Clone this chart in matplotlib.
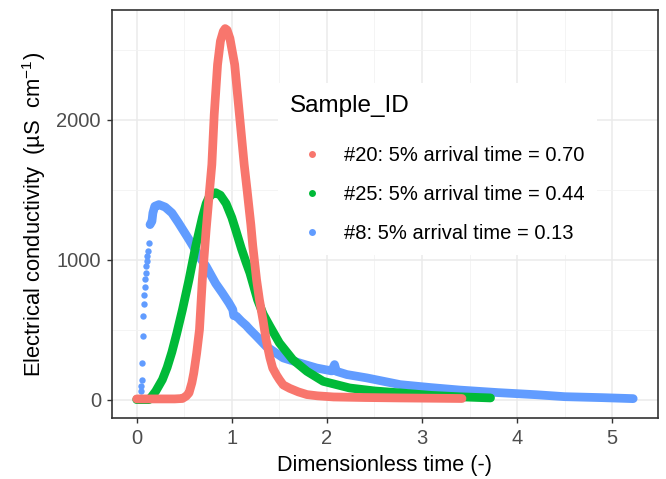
import numpy as np
import matplotlib
matplotlib.use("Agg")
import matplotlib.pyplot as plt
from matplotlib.lines import Line2D
from matplotlib.ticker import MultipleLocator

plt.rcParams['font.family'] = ['Liberation Sans', 'DejaVu Sans']
plt.rcParams['mathtext.fontset'] = 'custom'
plt.rcParams['mathtext.rm'] = 'Liberation Sans'
plt.rcParams['mathtext.it'] = 'Liberation Sans'

# ── Data ──────────────────────────────────────────────────
labels = ['#20: 5% arrival time = 0.70',
          '#25: 5% arrival time = 0.44',
          '#8: 5% arrival time = 0.13']
colors = ['#F8766D', '#00BA38', '#619CFF']

# sample #20
t20 = [0.0, 0.2, 0.4, 0.48, 0.52, 0.55, 0.58, 0.60, 0.63, 0.66, 0.69, 0.73,
       0.76, 0.79, 0.815, 0.85, 0.88, 0.91, 0.93, 0.95, 0.98, 1.03, 1.08,
       1.13, 1.16, 1.20, 1.22, 1.26, 1.29, 1.33, 1.36, 1.40, 1.43, 1.47, 1.50,
       1.54, 1.61, 1.70, 1.79, 1.90, 2.07, 2.40, 2.77, 3.10, 3.42]
ec20 = [5, 5, 5, 8, 25, 48, 120, 190, 330, 500, 857, 1214,
        1450, 1679, 2036, 2393, 2560, 2630, 2650, 2640, 2580, 2393, 2036,
        1679, 1500, 1250, 1100, 857, 714, 560, 429, 300, 225, 175, 143,
        105, 80, 55, 36, 27, 19, 15, 12, 10, 8]

# sample #25
t25 = [0.0, 0.13, 0.16, 0.20, 0.27, 0.32, 0.37, 0.42, 0.48, 0.55, 0.62, 0.69,
       0.73, 0.76, 0.80, 0.83, 0.88, 0.94, 1.00, 1.04, 1.10, 1.15, 1.19, 1.23,
       1.27, 1.33, 1.40, 1.50, 1.64, 1.79, 1.96, 2.24, 2.50, 2.77, 3.10, 3.40,
       3.72]
ec25 = [0, 0, 24, 60, 143, 230, 340, 470, 640, 857, 1095, 1300,
        1400, 1445, 1472, 1478, 1460, 1400, 1300, 1214, 1080, 980, 905, 810,
        714, 610, 524, 405, 286, 202, 131, 83, 62, 48, 30, 20,
        12]

# sample #8 - sparse early rise (individual points)
t8_rise = [0.0, 0.01, 0.02, 0.03, 0.04, 0.045, 0.05, 0.055, 0.06, 0.065, 0.07,
           0.074, 0.08, 0.085, 0.09, 0.095, 0.10, 0.105, 0.11, 0.12, 0.127]
ec8_rise = [0, 0, 0, 0, 0, 60, 95, 143, 262, 457, 595, 686,
            750, 802, 862, 905, 952, 988, 1024, 1060, 1119]

# sample #8 - dense part
t8 = [0.14, 0.16, 0.17, 0.19, 0.233, 0.30, 0.37, 0.44, 0.55, 0.66, 0.73,
      0.83, 0.90, 0.97, 1.01, 1.02, 1.05, 1.10, 1.15, 1.19, 1.26, 1.36, 1.54,
      1.71, 1.89, 2.05, 2.08, 2.10, 2.21, 2.42, 2.77, 3.09, 3.40, 3.80, 4.20,
      4.50, 4.90, 5.22]
ec8 = [1250, 1274, 1333, 1381, 1393, 1375, 1333, 1262, 1143, 1020, 952,
       830, 762, 690, 643, 600, 595, 560, 530, 500, 452, 381, 298,
       262, 226, 205, 250, 202, 179, 155, 107, 86, 68, 50, 35,
       21, 14, 7]

# ── Plot ───────────────────────────────────────────────────
fig = plt.figure(figsize=(6.66, 4.79), dpi=100)
ax = fig.add_axes([0.168, 0.127, 0.820, 0.852])

lw = 6.3
line_kw = dict(solid_capstyle='round', solid_joinstyle='round')
ax.plot(t8_rise, ec8_rise, 'o', color=colors[2], ms=4.6, mew=0, zorder=3)
ax.plot(t8, ec8, '-', color=colors[2], lw=lw, zorder=3, **line_kw)
ax.plot(t25, ec25, '-', color=colors[1], lw=lw, zorder=4, **line_kw)
ax.plot(t20, ec20, '-', color=colors[0], lw=lw, zorder=5, **line_kw)

# ggplot-like limits (5% expansion)
xmin, xmax = 0, 5.22
ymin, ymax = 0, 2650
ax.set_xlim(xmin - 0.05 * (xmax - xmin), xmax + 0.05 * (xmax - xmin))
ax.set_ylim(ymin - 0.05 * (ymax - ymin), ymax + 0.05 * (ymax - ymin))

ax.xaxis.set_major_locator(MultipleLocator(1))
ax.xaxis.set_minor_locator(MultipleLocator(0.5))
ax.yaxis.set_major_locator(MultipleLocator(1000))
ax.yaxis.set_minor_locator(MultipleLocator(500))
ax.grid(which='major', color='#EBEBEB', lw=1.1, zorder=0)
ax.grid(which='minor', color='#F2F2F2', lw=0.6, zorder=0)
ax.set_axisbelow(True)

ax.tick_params(which='major', length=3.6, width=1.0, color='#333333',
               labelcolor='#4D4D4D', labelsize=14.5, pad=4.3)
ax.tick_params(which='minor', length=0)
for s in ax.spines.values():
    s.set_color('#333333')
    s.set_linewidth(1.2)

ax.set_xlabel('Dimensionless time (-)', fontsize=15.6, labelpad=5)
ax.set_ylabel('Electrical conductivity  (µS  cm$^{-1}$)', fontsize=15.8,
              labelpad=6)

handles = [Line2D([], [], marker='o', ls='', color=c, ms=5, mew=0) for c in colors]
leg = ax.legend(handles, labels, title='Sample_ID', loc='upper left',
                bbox_to_anchor=(0.285, 0.845), fontsize=14.5, title_fontsize=17.5,
                frameon=True, fancybox=False, edgecolor='none', facecolor='white',
                framealpha=1, handletextpad=0.5, labelspacing=1.0,
                borderpad=0.6, handlelength=2.2)
leg._legend_box.align = 'left'
leg._legend_box.sep += 6
leg.set_zorder(6)

fig.savefig('out.png', dpi=100)
